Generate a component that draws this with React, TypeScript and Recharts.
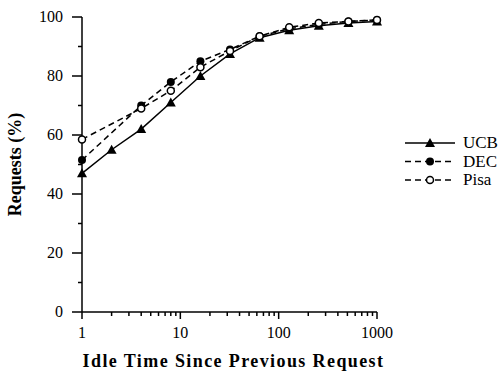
import React from "react";
import { LineChart, Line, XAxis, YAxis } from "recharts";

// idle time (log2 steps) and % of requests
const ucbIdle = [1, 2, 4, 8, 16, 32, 64, 128, 256, 512, 1000];
const ucbPct = [47, 55, 62, 71, 80, 87.5, 93, 95.5, 97, 98, 98.5];

const decIdle = [1, 4, 8, 16, 32, 64, 128, 256, 512, 1000];
const decPct = [51.5, 70, 78, 85, 89, 93.5, 96, 97.5, 98.5, 99];

const pisaIdle = [1, 4, 8, 16, 32, 64, 128, 256, 512, 1000];
const pisaPct = [58.5, 69, 75, 83, 88.5, 93.5, 96.5, 98, 98.5, 99];

const xMajorTicks = [1, 10, 100, 1000];
const xAllTicks = [
  1, 2, 3, 4, 5, 6, 7, 8, 9, 10, 20, 30, 40, 50, 60, 70, 80, 90, 100, 200, 300,
  400, 500, 600, 700, 800, 900, 1000,
];
const yMajorTicks = [0, 20, 40, 60, 80, 100];
const yAllTicks = [0, 10, 20, 30, 40, 50, 60, 70, 80, 90, 100];

const FONT = '"Liberation Serif", "Times New Roman", serif';

const toPoints = (xs: number[], ys: number[]) =>
  xs.map((x, i) => ({ x, y: ys[i] }));

const ucbData = toPoints(ucbIdle, ucbPct);
const decData = toPoints(decIdle, decPct);
const pisaData = toPoints(pisaIdle, pisaPct);

type Marker = "triangle" | "dot" | "open";

function drawMarker(kind: Marker, cx: number, cy: number, key?: string) {
  if (kind === "triangle") {
    return (
      <polygon
        key={key}
        points={`${cx},${cy - 5} ${cx - 5},${cy + 4} ${cx + 5},${cy + 4}`}
        fill="#000"
      />
    );
  }
  if (kind === "dot") {
    return <circle key={key} cx={cx} cy={cy} r={4} fill="#000" />;
  }
  return (
    <circle key={key} cx={cx} cy={cy} r={3.5} fill="#fff" stroke="#000" strokeWidth={1.5} />
  );
}

const makeDot = (kind: Marker) => (props: any) => {
  const { cx, cy, index } = props;
  if (cx == null || cy == null) return <g key={index} />;
  return drawMarker(kind, cx, cy, `m-${kind}-${index}`);
};

const textStyle = { fontFamily: FONT };

const XTick = (props: any) => {
  const { x, y, payload } = props;
  const major = xMajorTicks.includes(payload.value);
  return (
    <g>
      <line x1={x} x2={x} y1={y} y2={y + (major ? 7 : 4)} stroke="#000" strokeWidth={1.5} />
      {major && (
        <text x={x} y={y + 26} textAnchor="middle" fontSize={16} fontFamily={FONT} style={textStyle} fill="#000">
          {payload.value}
        </text>
      )}
    </g>
  );
};

const YTick = (props: any) => {
  const { x, y, payload } = props;
  const major = yMajorTicks.includes(payload.value);
  return (
    <g>
      <line x1={x} x2={x - (major ? 10 : 4)} y1={y} y2={y} stroke="#000" strokeWidth={1.5} />
      {major && (
        <text x={x - 19} y={y + 5} textAnchor="end" fontSize={16} fontFamily={FONT} style={textStyle} fill="#000">
          {payload.value}
        </text>
      )}
    </g>
  );
};

const YTitle = (props: any) => {
  const { viewBox } = props;
  const cx = viewBox.x + 15;
  const cy = viewBox.y + viewBox.height / 2;
  return (
    <text
      x={cx}
      y={cy}
      transform={`rotate(-90, ${cx}, ${cy})`}
      textAnchor="middle"
      dominantBaseline="central"
      fontSize={18}
      fontWeight="bold"
      style={textStyle}
      fill="#000"
    >
      Requests (%)
    </text>
  );
};

const XTitle = (props: any) => {
  const { viewBox } = props;
  const cx = viewBox.x + viewBox.width / 2 + 4;
  const cy = viewBox.y + viewBox.height - 5;
  return (
    <text
      x={cx}
      y={cy}
      textAnchor="middle"
      fontSize={18}
      fontWeight="bold"
      letterSpacing={1.4}
      style={textStyle}
      fill="#000"
    >
      Idle Time Since Previous Request
    </text>
  );
};

const legendItems: { name: string; marker: Marker; dash?: string }[] = [
  { name: "UCB", marker: "triangle" },
  { name: "DEC", marker: "dot", dash: "6 4" },
  { name: "Pisa", marker: "open", dash: "6 4" },
];

const LegendBox = () => (
  <svg
    width={99}
    height={60}
    style={{ position: "absolute", left: 405, top: 133 }}
  >
    {legendItems.map((it, i) => {
      const y = 10 + i * 18.5;
      return (
        <g key={it.name}>
          <line x1={0} x2={50} y1={y} y2={y} stroke="#000" strokeWidth={1.5} strokeDasharray={it.dash} />
          {drawMarker(it.marker, 25, y)}
          <text x={58} y={y + 5} fontSize={17} fontFamily={FONT} style={textStyle} fill="#000">
            {it.name}
          </text>
        </g>
      );
    })}
  </svg>
);

export default function App() {
  return (
    <div style={{ position: "absolute", left: 0, top: 0, width: 504, height: 372, background: "#fff", fontFamily: FONT }}>
      <LineChart width={504} height={372} margin={{ top: 17, right: 127, left: 0, bottom: 0 }}>
        <XAxis
          dataKey="x"
          type="number"
          scale="log"
          domain={[1, 1000]}
          ticks={xAllTicks}
          interval={0}
          allowDuplicatedCategory={false}
          tick={<XTick />}
          tickLine={false}
          tickSize={0}
          tickMargin={0}
          height={60}
          axisLine={{ stroke: "#000", strokeWidth: 1.5 }}
          label={<XTitle />}
        />
        <YAxis
          type="number"
          domain={[0, 100]}
          ticks={yAllTicks}
          interval={0}
          width={82}
          tick={<YTick />}
          tickLine={false}
          tickSize={0}
          tickMargin={0}
          axisLine={{ stroke: "#000", strokeWidth: 1.5 }}
          label={<YTitle />}
        />
        <Line
          data={ucbData}
          dataKey="y"
          name="UCB"
          stroke="#000"
          strokeWidth={1.5}
          dot={makeDot("triangle")}
          activeDot={false}
          isAnimationActive={false}
        />
        <Line
          data={decData}
          dataKey="y"
          name="DEC"
          stroke="#000"
          strokeWidth={1.5}
          strokeDasharray="6 4"
          dot={makeDot("dot")}
          activeDot={false}
          isAnimationActive={false}
        />
        <Line
          data={pisaData}
          dataKey="y"
          name="Pisa"
          stroke="#000"
          strokeWidth={1.5}
          strokeDasharray="6 4"
          dot={makeDot("open")}
          activeDot={false}
          isAnimationActive={false}
        />
      </LineChart>
      <LegendBox />
    </div>
  );
}
